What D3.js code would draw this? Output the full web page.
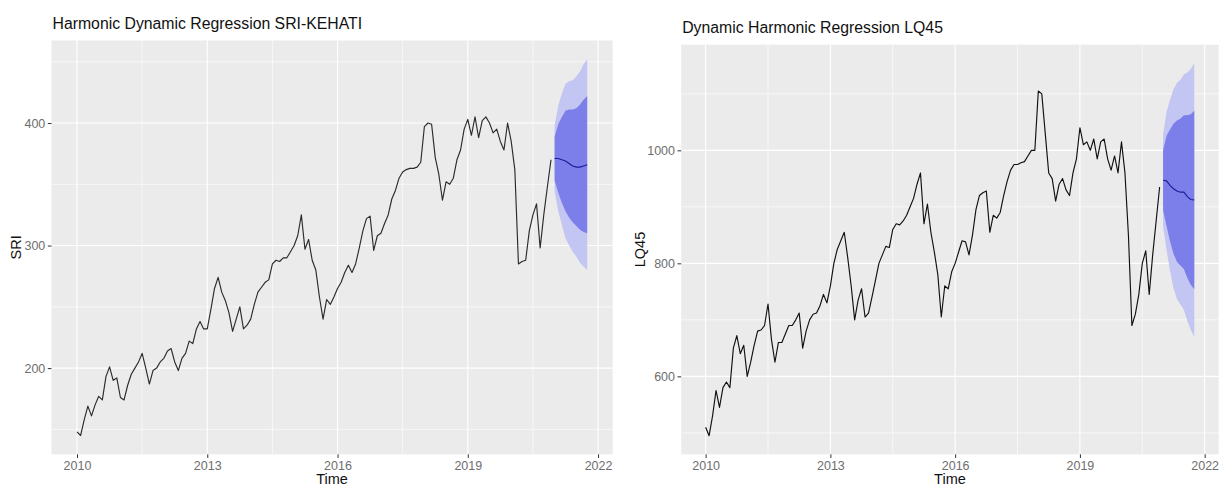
<!DOCTYPE html>
<html>
<head>
<meta charset="utf-8">
<script src="https://cdn.jsdelivr.net/npm/d3@7"></script>
<style>
  body { margin: 0; background: #fff; }
  svg text { font-family: "Liberation Sans", Arial, Helvetica, sans-serif; }
</style>
</head>
<body>
<svg id="chart" width="1226" height="488"></svg>
<script>
// Monthly series, January 2010 to December 2020
const startYear = 2010;
const frequency = 12;
const forecastStart = 2021;

const sriValues = [
  148, 145, 158, 169, 161, 170, 177, 174, 193, 201, 190, 192,
  176, 174, 186, 195, 200, 205, 212, 200, 187, 198, 200, 205,
  208, 214, 216, 205, 198, 208, 212, 222, 220, 232, 238, 232,
  232, 248, 265, 274, 262, 255, 245, 230, 240, 250, 232, 235,
  240, 252, 262, 266, 270, 272, 285, 288, 287, 290, 290, 295,
  300, 308, 325, 297, 305, 288, 280, 258, 240, 256, 252, 258,
  265, 270, 278, 284, 278, 285, 298, 312, 322, 324, 296, 308,
  310, 318, 325, 338, 345, 355, 360, 362, 363, 363, 364, 368,
  397, 400, 399, 372, 358, 337, 352, 350, 355, 370, 378, 395,
  403, 390, 405, 388, 402, 405, 400, 392, 395, 385, 378, 400,
  385, 362, 285, 287, 288, 312, 325, 334, 298, 325, 348, 370
];

// Ten-month forecast (Jan-Oct 2021) with 80% and 95% intervals
const sriMean = [371, 371, 370, 369, 367, 365, 364, 364, 365, 366];
const sriLo80 = [353, 343, 335, 328, 323, 319, 316, 313, 311, 310];
const sriHi80 = [389, 399, 405, 410, 411, 411, 412, 415, 419, 422];
const sriLo95 = [344, 328, 317, 306, 300, 295, 291, 286, 283, 280];
const sriHi95 = [398, 414, 424, 432, 434, 435, 438, 442, 448, 452];

const lqValues = [
  510, 495, 530, 575, 545, 580, 590, 580, 650, 672, 640, 655,
  600, 625, 655, 680, 682, 690, 728, 665, 625, 660, 660, 675,
  690, 690, 700, 712, 650, 680, 700, 710, 712, 725, 745, 730,
  760, 800, 825, 840, 855, 810, 760, 700, 735, 755, 705, 712,
  740, 770, 800, 815, 830, 828, 860, 870, 868, 875, 885, 900,
  915, 940, 960, 870, 905, 855, 820, 780, 705, 760, 755, 785,
  800, 820, 840, 838, 815, 850, 895, 920, 925, 928, 855, 885,
  880, 890, 920, 945, 965, 975, 975, 978, 980, 990, 1000, 1000,
  1105, 1100, 1030, 960, 950, 910, 940, 950, 930, 920, 960, 985,
  1040, 1010, 1015, 1000, 1020, 985, 1015, 1020, 985, 965, 990, 960,
  1015, 960, 850, 690, 710, 745, 800, 822, 745, 815, 875, 935
];

const lqMean = [947, 946, 938, 932, 928, 926, 926, 918, 913, 912];
const lqLo80 = [894, 866, 839, 817, 803, 796, 790, 774, 762, 754];
const lqHi80 = [1000, 1026, 1037, 1047, 1053, 1056, 1062, 1062, 1064, 1070];
const lqLo95 = [866, 824, 787, 756, 737, 727, 718, 698, 682, 670];
const lqHi95 = [1028, 1068, 1089, 1108, 1119, 1125, 1134, 1138, 1144, 1154];

const xTicks = [2010, 2013, 2016, 2019, 2022];
const xMinorTicks = [2011.5, 2014.5, 2017.5, 2020.5];
const sriTicks = [200, 300, 400];
const sriMinorTicks = [150, 250, 350, 450];
const lqTicks = [600, 800, 1000];
const lqMinorTicks = [500, 700, 900, 1100];

const svg = d3.select("#chart");

function drawPanel(cfg) {
  const { left, right, top, bottom } = cfg.box;
  const hist = cfg.values.map((v, i) => ({ t: startYear + i / frequency, v }));
  const fc = cfg.mean.map((m, i) => ({
    t: forecastStart + i / frequency, m,
    lo80: cfg.lo80[i], hi80: cfg.hi80[i], lo95: cfg.lo95[i], hi95: cfg.hi95[i]
  }));

  // ggplot-style 5% expansion of the data range
  const tExt = [hist[0].t, fc[fc.length - 1].t];
  const tPad = (tExt[1] - tExt[0]) * 0.05;
  const vMin = d3.min([d3.min(cfg.values), d3.min(cfg.lo95)]);
  const vMax = d3.max([d3.max(cfg.values), d3.max(cfg.hi95)]);
  const vPad = (vMax - vMin) * 0.05;

  const x = d3.scaleLinear().domain([tExt[0] - tPad, tExt[1] + tPad]).range([left, right]);
  const y = d3.scaleLinear().domain([vMin - vPad, vMax + vPad]).range([bottom, top]);

  const g = svg.append("g");

  // panel background
  g.append("rect")
    .attr("x", left).attr("y", top)
    .attr("width", right - left).attr("height", bottom - top)
    .attr("fill", "#EBEBEB");

  // minor grid
  g.selectAll(".vminor").data(xMinorTicks).join("line")
    .attr("x1", d => x(d)).attr("x2", d => x(d))
    .attr("y1", top).attr("y2", bottom)
    .attr("stroke", "#fff").attr("stroke-width", 0.6);
  g.selectAll(".hminor").data(cfg.minorTicks).join("line")
    .attr("x1", left).attr("x2", right)
    .attr("y1", d => y(d)).attr("y2", d => y(d))
    .attr("stroke", "#fff").attr("stroke-width", 0.6);

  // major grid
  g.selectAll(".vmajor").data(xTicks).join("line")
    .attr("x1", d => x(d)).attr("x2", d => x(d))
    .attr("y1", top).attr("y2", bottom)
    .attr("stroke", "#fff").attr("stroke-width", 1.1);
  g.selectAll(".hmajor").data(cfg.ticks).join("line")
    .attr("x1", left).attr("x2", right)
    .attr("y1", d => y(d)).attr("y2", d => y(d))
    .attr("stroke", "#fff").attr("stroke-width", 1.1);

  // prediction intervals
  const area95 = d3.area().x(d => x(d.t)).y0(d => y(d.lo95)).y1(d => y(d.hi95));
  const area80 = d3.area().x(d => x(d.t)).y0(d => y(d.lo80)).y1(d => y(d.hi80));
  g.append("path").datum(fc).attr("d", area95).attr("fill", "#C3C5F2");
  g.append("path").datum(fc).attr("d", area80).attr("fill", "#7C7FEA");

  // observed series
  const line = d3.line().x(d => x(d.t)).y(d => y(d.v));
  g.append("path").datum(hist).attr("d", line)
    .attr("fill", "none").attr("stroke", cfg.lineColor).attr("stroke-width", 1.15)
    .attr("stroke-linejoin", "round");

  // point forecast
  const meanLine = d3.line().x(d => x(d.t)).y(d => y(d.m));
  g.append("path").datum(fc).attr("d", meanLine)
    .attr("fill", "none").attr("stroke", "#1c1c9a").attr("stroke-width", 1.1);

  // x axis
  const xAxis = d3.axisBottom(x).tickValues(xTicks).tickFormat(d3.format("d"))
    .tickSize(3.7).tickPadding(3.5);
  const gx = g.append("g").attr("transform", `translate(0,${bottom})`).call(xAxis);
  gx.select(".domain").remove();
  gx.selectAll(".tick line").attr("stroke", "#333").attr("stroke-width", 1);
  gx.selectAll(".tick text").attr("fill", "#6e6e6e").attr("font-size", 12.5)
    .attr("font-family", "Liberation Sans, Arial, sans-serif");

  // y axis
  const yAxis = d3.axisLeft(y).tickValues(cfg.ticks).tickFormat(d3.format("d"))
    .tickSize(3.7).tickPadding(2.5);
  const gy = g.append("g").attr("transform", `translate(${left},0)`).call(yAxis);
  gy.select(".domain").remove();
  gy.selectAll(".tick line").attr("stroke", "#333").attr("stroke-width", 1);
  gy.selectAll(".tick text").attr("fill", "#6e6e6e").attr("font-size", 12.5)
    .attr("font-family", "Liberation Sans, Arial, sans-serif");

  // titles
  g.append("text")
    .attr("x", left + 1).attr("y", cfg.titleY)
    .attr("font-size", 15.8).attr("fill", "#111")
    .text(cfg.title);

  g.append("text")
    .attr("x", (left + right) / 2).attr("y", 484)
    .attr("text-anchor", "middle").attr("font-size", 14.5).attr("fill", "#111")
    .text("Time");

  g.append("text")
    .attr("transform", `translate(${cfg.yTitleX},${(top + bottom) / 2}) rotate(-90)`)
    .attr("text-anchor", "middle").attr("font-size", 14.5).attr("fill", "#111")
    .text(cfg.yTitle);
}

drawPanel({
  box: { left: 51.5, right: 612.7, top: 40.5, bottom: 454.3 },
  values: sriValues, mean: sriMean,
  lo80: sriLo80, hi80: sriHi80, lo95: sriLo95, hi95: sriHi95,
  ticks: sriTicks, minorTicks: sriMinorTicks,
  title: "Harmonic Dynamic Regression SRI-KEHATI", titleY: 29,
  yTitle: "SRI", yTitleX: 21, lineColor: "#2b2b2b"
});

drawPanel({
  box: { left: 681.2, right: 1218.7, top: 44.7, bottom: 454.3 },
  values: lqValues, mean: lqMean,
  lo80: lqLo80, hi80: lqHi80, lo95: lqLo95, hi95: lqHi95,
  ticks: lqTicks, minorTicks: lqMinorTicks,
  title: "Dynamic Harmonic Regression LQ45", titleY: 33,
  yTitle: "LQ45", yTitleX: 645, lineColor: "#111"
});
</script>
</body>
</html>
